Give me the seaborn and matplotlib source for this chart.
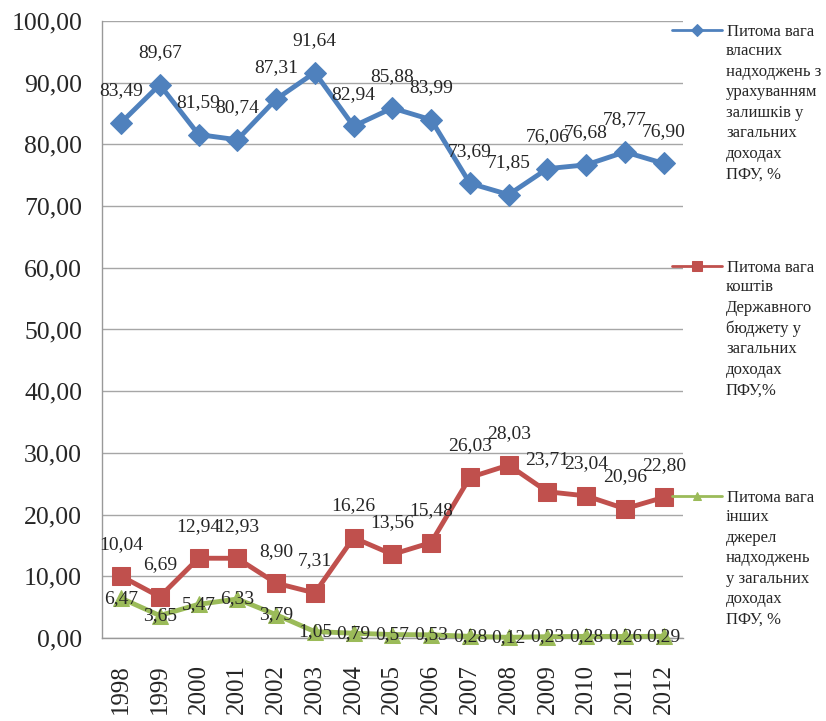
import matplotlib
matplotlib.use("Agg")
import matplotlib.pyplot as plt
import matplotlib.ticker as mticker
import seaborn as sns
import pandas as pd

years = [str(y) for y in range(1998, 2013)]
own_income = [83.49, 89.67, 81.59, 80.74, 87.31, 91.64, 82.94, 85.88, 83.99,
              73.69, 71.85, 76.06, 76.68, 78.77, 76.90]
state_budget = [10.04, 6.69, 12.94, 12.93, 8.90, 7.31, 16.26, 13.56, 15.48,
                26.03, 28.03, 23.71, 23.04, 20.96, 22.80]
other_sources = [6.47, 3.65, 5.47, 6.33, 3.79, 1.05, 0.79, 0.57, 0.53,
                 0.28, 0.12, 0.23, 0.28, 0.26, 0.29]

legend_labels = [
    "Питома вага\nвласних\nнадходжень з\nурахуванням\nзалишків у\nзагальних\nдоходах\nПФУ, %",
    "Питома вага\nкоштів\nДержавного\nбюджету у\nзагальних\nдоходах\nПФУ,%",
    "Питома вага\nінших\nджерел\nнадходжень\nу загальних\nдоходах\nПФУ, %",
]

sns.set_style("white")
plt.rcParams["font.family"] = ["Liberation Serif", "DejaVu Serif"]

fig = plt.figure(figsize=(8.26, 7.21), dpi=100)
ax = fig.add_axes([0.123, 0.115, 0.704, 0.856])

series = [
    (own_income, "#4F81BD", "D", 11, "above"),
    (state_budget, "#C0504D", "s", 13, "above"),
    (other_sources, "#9BBB59", "^", 11, "center"),
]

for values, color, marker, ms, pos in series:
    df = pd.DataFrame({"year": years, "value": values})
    sns.lineplot(data=df, x="year", y="value", ax=ax, color=color, marker=marker,
                 markersize=ms, markeredgecolor=color, linewidth=3.5, clip_on=False,
                 zorder=3)
    for i, v in enumerate(values):
        txt = f"{v:.2f}".replace(".", ",")
        if pos == "above":
            ax.annotate(txt, (i, v), xytext=(0, 23), textcoords="offset points",
                        ha="center", va="center", fontsize=14, zorder=5)
        else:
            ax.annotate(txt, (i, v), ha="center", va="center", fontsize=14, zorder=5)

ax.set_xlim(-0.5, len(years) - 0.5)
ax.set_ylim(0, 100)
ax.set_yticks(range(0, 101, 10))
ax.yaxis.set_major_formatter(mticker.FuncFormatter(lambda v, p: f"{v:.2f}".replace(".", ",")))
ax.set_xticks(range(len(years)))
ax.set_xticklabels(years, rotation=90)
ax.set_xticks([i - 0.5 for i in range(len(years) + 1)], minor=True)
ax.tick_params(axis="x", which="major", length=0, labelsize=18, pad=19)
ax.tick_params(axis="x", which="minor", length=6, color="#999999", width=1)
ax.tick_params(axis="y", length=5, color="#999999", labelsize=18.5, pad=9)
ax.grid(axis="y", color="#a6a6a6", linewidth=1)
ax.set_xlabel("")
ax.set_ylabel("")
for s in ["top", "right"]:
    ax.spines[s].set_visible(False)
for s in ["left", "bottom"]:
    ax.spines[s].set_color("#999999")
    ax.spines[s].set_linewidth(1)

# legend: one key per series, with the multi-line caption hanging below the first line
lines = ax.get_lines()
key_tops = [32, 268, 498]
for line, label, ytop in zip(lines, legend_labels, key_tops):
    first, rest = label.split("\n", 1)
    y = 1 - ytop / 721
    leg = fig.legend([line], [first], loc="center left", bbox_to_anchor=(672 / 826, y),
                     frameon=False, fontsize=12, handlelength=3.0, handletextpad=0.3,
                     borderaxespad=0, borderpad=0, markerscale=0.55)
    for h in leg.legend_handles:
        h.set_linewidth(2)
    fig.text(726 / 826, y - 11 / 721, rest, fontsize=12, va="top", ha="left",
             linespacing=1.38)

fig.savefig("out.png", dpi=100)
